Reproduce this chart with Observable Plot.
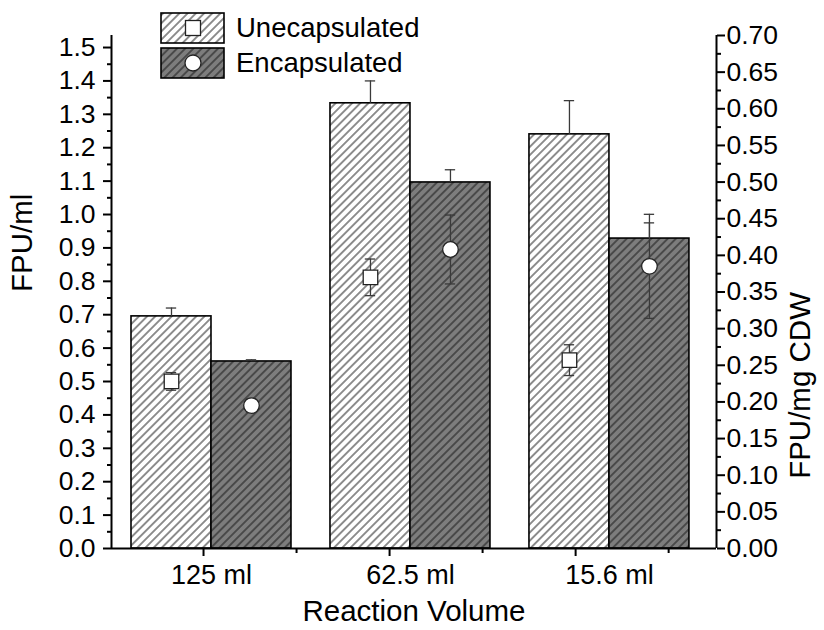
<!DOCTYPE html>
<html><head><meta charset="utf-8">
<script src="https://cdn.jsdelivr.net/npm/d3@7"></script>
<script src="https://cdn.jsdelivr.net/npm/@observablehq/plot@0.6"></script>
<style>
body{margin:0;background:#fff;}
#chart svg{display:block}
</style>
</head><body>
<svg width="0" height="0" style="position:absolute">
<defs>
<pattern id="hatchLight" patternUnits="userSpaceOnUse" width="5.8" height="5.8" patternTransform="rotate(45)">
<rect width="5.8" height="5.8" fill="#ffffff"/>
<line x1="2.9" y1="0" x2="2.9" y2="5.8" stroke="#111" stroke-width="0.95"/>
</pattern>
<pattern id="hatchDark" patternUnits="userSpaceOnUse" width="5.8" height="5.8" patternTransform="rotate(45)">
<rect width="5.8" height="5.8" fill="#7d7d7d"/>
<line x1="2.9" y1="0" x2="2.9" y2="5.8" stroke="#111" stroke-width="0.95"/>
</pattern>
</defs>
</svg>
<div id="chart"></div>
<script>
// ---- data ----
const categories = ["125 ml", "62.5 ml", "15.6 ml"];
const seriesNames = ["Unecapsulated", "Encapsulated"];
// bars: FPU/ml (left axis)
const unencFPUml = [0.695, 1.333, 1.240];
const unencFPUmlErr = [0.025, 0.067, 0.101];
const encFPUml = [0.560, 1.096, 0.928];
const encFPUmlErr = [0.005, 0.038, 0.047];
// points: FPU/mg CDW (right axis)
const unencFPUcdw = [0.228, 0.370, 0.257];
const unencFPUcdwErr = [0.012, 0.025, 0.021];
const encFPUcdw = [0.195, 0.408, 0.385];
const encFPUcdwErr = [0.009, 0.047, 0.071];
// tick labels
const leftTicks = [0.0, 0.1, 0.2, 0.3, 0.4, 0.5, 0.6, 0.7, 0.8, 0.9, 1.0, 1.1, 1.2, 1.3, 1.4, 1.5];
const rightTicks = [0.00, 0.05, 0.10, 0.15, 0.20, 0.25, 0.30, 0.35, 0.40, 0.45, 0.50, 0.55, 0.60, 0.65, 0.70];
const leftTitle = "FPU/ml";
const rightTitle = "FPU/mg CDW";
const xTitle = "Reaction Volume";

// ---- layout constants ----
const Y_MAX = 1.536, R_MAX = 0.70, K = Y_MAX / R_MAX;
const BW = 0.402;          // bar width in group units
const CAP = 0.026;         // half cap width
const X_MIN = -0.5025, X_MAX = 2.538;
const X_TICK0 = -0.04, X_TICK_STEP = 0.935; // original axis tick grid (offset from groups)
const FONT = "'Liberation Sans', Arial, Helvetica, sans-serif";

const rows = categories.flatMap((c, i) => [
  {cat: c, i, s: seriesNames[0], x1: i - BW, x2: i, xc: i - BW / 2,
   v: unencFPUml[i], e: unencFPUmlErr[i], p: unencFPUcdw[i], pe: unencFPUcdwErr[i]},
  {cat: c, i, s: seriesNames[1], x1: i, x2: i + BW, xc: i + BW / 2,
   v: encFPUml[i], e: encFPUmlErr[i], p: encFPUcdw[i], pe: encFPUcdwErr[i]}
]);
const U = rows.filter(d => d.s === seriesNames[0]);
const E = rows.filter(d => d.s === seriesNames[1]);

const minorLeft = leftTicks.slice(0, -1).map(t => t + 0.05);
const minorRight = rightTicks.slice(0, -1).map(t => (t + 0.025) * K);
const xMajor = categories.map((c, k) => X_TICK0 + k * X_TICK_STEP);
const xMinor = [-0.5, 0.5, 1.5, 2.5].map(k => X_TICK0 + k * X_TICK_STEP).filter(v => v >= X_MIN && v <= X_MAX);
const ERR = "#3a3a3a";
const blank = () => "";

const chart = Plot.plot({
  width: 824, height: 630,
  marginLeft: 111, marginRight: 108, marginTop: 35, marginBottom: 82,
  style: {fontFamily: FONT, color: "#000", background: "#fff", overflow: "visible"},
  x: {type: "linear", domain: [X_MIN, X_MAX]},
  y: {domain: [0, Y_MAX]},
  marks: [
    Plot.rectY(U, {x1: "x1", x2: "x2", y1: 0, y2: "v", fill: "url(#hatchLight)", stroke: "#000", strokeWidth: 1.6}),
    Plot.rectY(E, {x1: "x1", x2: "x2", y1: 0, y2: "v", fill: "url(#hatchDark)", stroke: "#000", strokeWidth: 1.6}),
    // bar error bars (upward)
    Plot.ruleX(rows, {x: "xc", y1: "v", y2: d => d.v + d.e, stroke: ERR, strokeWidth: 1.3}),
    Plot.ruleY(rows, {y: d => d.v + d.e, x1: d => d.xc - CAP, x2: d => d.xc + CAP, stroke: ERR, strokeWidth: 1.3}),
    // point error bars (right axis)
    Plot.ruleX(rows, {x: "xc", y1: d => (d.p - d.pe) * K, y2: d => (d.p + d.pe) * K, stroke: ERR, strokeWidth: 1.3}),
    Plot.ruleY(rows, {y: d => (d.p + d.pe) * K, x1: d => d.xc - CAP, x2: d => d.xc + CAP, stroke: ERR, strokeWidth: 1.3}),
    Plot.ruleY(rows, {y: d => (d.p - d.pe) * K, x1: d => d.xc - CAP, x2: d => d.xc + CAP, stroke: ERR, strokeWidth: 1.3}),
    Plot.dot(U, {x: "xc", y: d => d.p * K, symbol: "square", r: 8.2, fill: "#fff", stroke: "#222", strokeWidth: 1.3}),
    Plot.dot(E, {x: "xc", y: d => d.p * K, symbol: "circle", r: 7.8, fill: "#fff", stroke: "#222", strokeWidth: 1.3}),
    // axes
    Plot.axisY({anchor: "left", ticks: leftTicks, tickFormat: d => d.toFixed(1), tickSize: 8, tickPadding: 8, fontSize: 26.5, label: null, strokeWidth: 2}),
    Plot.axisY({anchor: "left", ticks: minorLeft, tickFormat: blank, tickSize: 4, label: null, strokeWidth: 2}),
    Plot.axisY({anchor: "right", ticks: rightTicks.map(t => t * K), tickFormat: d => (d / K).toFixed(2), tickSize: 8, tickPadding: 2, fontSize: 26.5, label: null, strokeWidth: 2}),
    Plot.axisY({anchor: "right", ticks: minorRight, tickFormat: blank, tickSize: 4, label: null, strokeWidth: 2}),
    Plot.axisX({ticks: xMajor, tickFormat: blank, tickSize: 8, label: null, strokeWidth: 2}),
    Plot.axisX({ticks: xMinor, tickFormat: blank, tickSize: 5, label: null, strokeWidth: 2}),
    Plot.axisX({ticks: categories.map((c, i) => i), tickFormat: i => categories[i], tickSize: 0, tickPadding: 16, fontSize: 27, label: null}),
    Plot.ruleX([X_MIN, X_MAX], {stroke: "#000", strokeWidth: 2}),
    Plot.ruleY([0], {stroke: "#000", strokeWidth: 2}),
    Plot.text([leftTitle], {frameAnchor: "left", dx: -89, rotate: -90, fontSize: 29.5, fill: "#000"}),
    Plot.text([rightTitle], {frameAnchor: "right", dx: 84, rotate: -90, fontSize: 29.5, fill: "#000"}),
    Plot.text([xTitle], {frameAnchor: "bottom", dy: 72, fontSize: 29.5, fill: "#000"})
  ]
});
document.getElementById("chart").appendChild(chart);

// legend inside plot
const svg = d3.select(chart);
const lg = svg.append("g").attr("font-family", FONT).attr("text-anchor", "start");
const legendItems = [
  {name: seriesNames[0], fill: "url(#hatchLight)", sym: "square", y: 13},
  {name: seriesNames[1], fill: "url(#hatchDark)", sym: "circle", y: 48}
];
legendItems.forEach(it => {
  lg.append("rect").attr("x", 161).attr("y", it.y).attr("width", 63).attr("height", 30)
    .attr("fill", it.fill).attr("stroke", "#000").attr("stroke-width", 1.6);
  if (it.sym === "square") {
    lg.append("rect").attr("x", 185.5).attr("y", it.y + 7.5).attr("width", 15).attr("height", 15)
      .attr("fill", "#fff").attr("stroke", "#222").attr("stroke-width", 1.3);
  } else {
    lg.append("circle").attr("cx", 193).attr("cy", it.y + 15).attr("r", 8)
      .attr("fill", "#fff").attr("stroke", "#222").attr("stroke-width", 1.3);
  }
  lg.append("text").attr("x", 236).attr("y", it.y + 24).attr("font-size", 27.5)
    .attr("fill", "#000").attr("text-anchor", "start").text(it.name);
});
</script>
</body></html>
